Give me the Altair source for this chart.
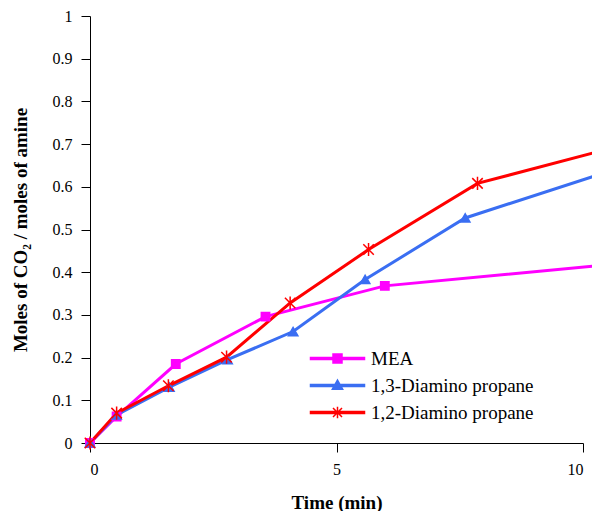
import altair as alt
import pandas as pd

series = ["MEA", "1,3-Diamino propane", "1,2-Diamino propane"]
colors = ["#FF00FF", "#3A6EF2", "#FF0000"]

mea_t = [0, 0.54, 1.74, 3.56, 5.98, 10.2]
mea_v = [0, 0.062, 0.185, 0.296, 0.368, 0.414]
dap13_t = [0, 0.54, 1.61, 2.79, 4.12, 5.58, 7.61, 10.2]
dap13_v = [0, 0.066, 0.131, 0.195, 0.261, 0.383, 0.527, 0.624]
dap12_t = [0, 0.54, 1.59, 2.77, 4.06, 5.65, 7.86, 10.2]
dap12_v = [0, 0.070, 0.134, 0.201, 0.328, 0.453, 0.608, 0.679]

x_ticks = [0, 5, 10]
y_ticks = [0, 0.1, 0.2, 0.3, 0.4, 0.5, 0.6, 0.7, 0.8, 0.9, 1]

rows = []
for name, ts, vs in [(series[0], mea_t, mea_v), (series[1], dap13_t, dap13_v), (series[2], dap12_t, dap12_v)]:
    for i, (t, v) in enumerate(zip(ts, vs)):
        rows.append({"series": name, "t": t, "v": v, "marker": i < len(ts) - 1, "order": i})
df = pd.DataFrame(rows)

FONT = "Liberation Serif"

plot_shapes = ["square", "triangle-up", "M-1,-1L1,1M-1,1L1,-1M0,-1.25V1.25"]
legend_shapes = [
    "M-6,-0.22H6V0.22H-6ZM-1,-1H1V1H-1Z",
    "M-6,-0.22H6V0.22H-6ZM0,-1.2L1.15,0.85H-1.15Z",
    "M-6,-0.22H6V0.22H-6ZM-1,-1L1,1M-1,1L1,-1M0,-1.3V1.3",
]

xenc = alt.X("t:Q", scale=alt.Scale(domain=[0, 10], nice=False, zero=False),
             axis=alt.Axis(values=x_ticks, title="Time (min)", labelExpr="datum.value + ''",
                           labelPadding=9, titlePadding=16, tickSize=9, labelAngle=0))
yenc = alt.Y("v:Q", scale=alt.Scale(domain=[0, 1], nice=False),
             axis=alt.Axis(values=y_ticks, title="Moles of CO₂ / moles of amine",
                           labelExpr="datum.value + ''",
                           labelPadding=9, titlePadding=22, tickSize=9))

lines = alt.Chart(df).mark_line(strokeWidth=3, clip=False).encode(
    x=xenc, y=yenc,
    color=alt.Color("series:N", scale=alt.Scale(domain=series, range=colors), legend=None),
    order="order:Q",
)

points = alt.Chart(df).transform_filter("datum.marker").mark_point(strokeWidth=1.5, opacity=1).encode(
    x=xenc, y=yenc,
    fill=alt.Fill("series:N", scale=alt.Scale(domain=series, range=colors), legend=None),
    stroke=alt.Stroke("series:N", scale=alt.Scale(domain=series, range=colors), legend=None),
    shape=alt.Shape("series:N", scale=alt.Scale(domain=series, range=plot_shapes), legend=None),
    size=alt.Size("series:N", scale=alt.Scale(domain=series, range=[70, 110, 100]), legend=None),
)

leg = alt.Legend(orient="none", legendX=238, legendY=333, title=None, symbolSize=81,
                 symbolStrokeWidth=1.5, labelOffset=24, labelFontSize=19, labelFont=FONT,
                 labelColor="black", rowPadding=7, padding=0, symbolOpacity=1, labelLimit=0)

legend_layer = alt.Chart(df).transform_filter("datum.t < 0").mark_point(filled=True).encode(
    x=xenc, y=yenc,
    fill=alt.Fill("series:N", scale=alt.Scale(domain=series, range=colors), legend=leg),
    stroke=alt.Stroke("series:N", scale=alt.Scale(domain=series, range=colors), legend=leg),
    shape=alt.Shape("series:N", scale=alt.Scale(domain=series, range=legend_shapes), legend=leg),
)

chart = alt.layer(lines, points, legend_layer).resolve_scale(
    color="independent", fill="independent", stroke="independent", shape="independent", size="independent"
).properties(
    width=493, height=427,
    background="white",
    autosize=alt.AutoSizeParams(type="none"),
    padding={"left": 90, "top": 16, "right": 9, "bottom": 68},
).configure_view(stroke=None).configure_axis(
    grid=False, domainColor="black", tickColor="black", labelColor="black",
    labelFont=FONT, labelFontSize=16, titleFont=FONT, titleFontSize=19,
    titleFontWeight="bold", titleColor="black", domainWidth=1, tickWidth=1,
)

chart.save("out.html", embed_options={"renderer": "svg", "actions": False})
